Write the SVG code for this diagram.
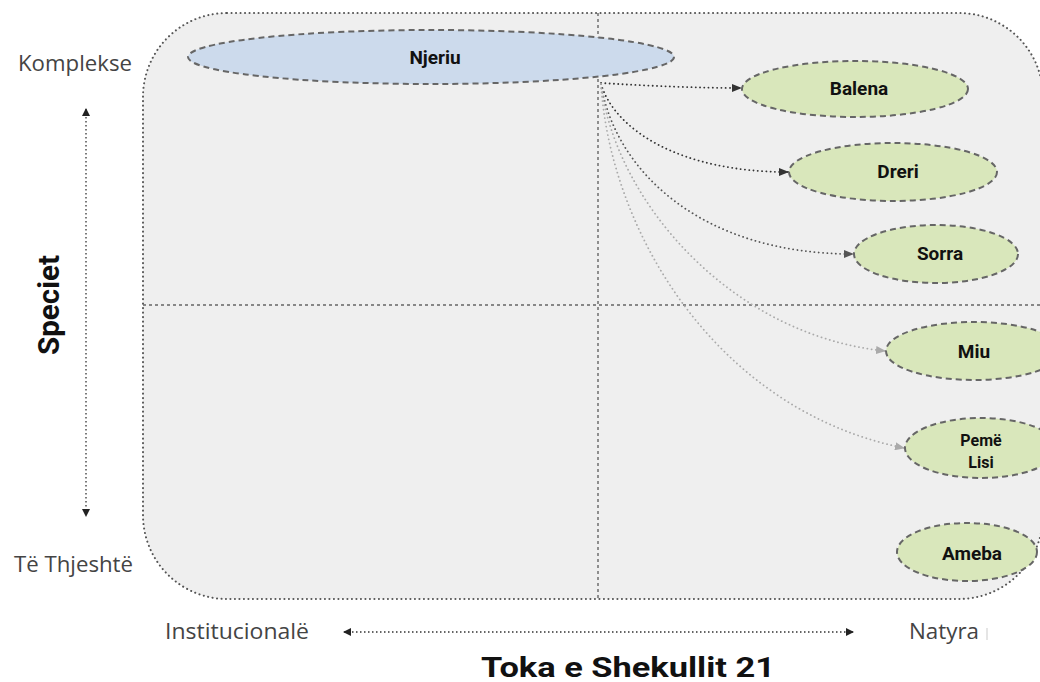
<svg xmlns="http://www.w3.org/2000/svg" width="1040" height="682" viewBox="0 0 1040 682">
<defs>
<style>
.node-blue{fill:#ccdaec;stroke:#666;stroke-width:2;stroke-dasharray:6 4}
.node-green{fill:#d9e7bb;stroke:#666;stroke-width:2;stroke-dasharray:6 4}
.nlabel{font-family:Roboto,"Liberation Sans",sans-serif;font-weight:bold;fill:#111;text-anchor:middle}
.axis-lbl{font-family:"Open Sans","Noto Sans",sans-serif;font-size:22px;fill:#444}
.conn{fill:none;stroke-width:1.8;stroke-dasharray:0.1 4.2;stroke-linecap:round}
.quad{stroke:#666;stroke-width:1.4;stroke-dasharray:3 3;fill:none}
.axis{stroke:#333;stroke-width:1.3;stroke-dasharray:1.5 2.5;fill:none}
</style>
<marker id="ahDark" viewBox="0 0 10 8" refX="9" refY="4" markerWidth="10" markerHeight="8" markerUnits="userSpaceOnUse" orient="auto"><path d="M0,0 L10,4 L0,8 z" fill="#333"/></marker>
<marker id="ahMid" viewBox="0 0 10 8" refX="9" refY="4" markerWidth="10" markerHeight="8" markerUnits="userSpaceOnUse" orient="auto"><path d="M0,0 L10,4 L0,8 z" fill="#555"/></marker>
<marker id="ahLight" viewBox="0 0 10 8" refX="9" refY="4" markerWidth="10" markerHeight="8" markerUnits="userSpaceOnUse" orient="auto"><path d="M0,0 L10,4 L0,8 z" fill="#aaa"/></marker>
<marker id="ahAxis" viewBox="0 0 8 8" refX="7" refY="4" markerWidth="8" markerHeight="8" markerUnits="userSpaceOnUse" orient="auto-start-reverse"><path d="M0,0 L8,4 L0,8 z" fill="#222"/></marker>
</defs>
<rect width="1040" height="682" fill="#ffffff"/>
<g id="background">
<rect x="143" y="13" width="900" height="586" rx="84" ry="84" fill="#efefef" stroke="#555" stroke-width="2" stroke-dasharray="0.1 4.4" stroke-linecap="round"/>
<line class="quad" x1="598" y1="13" x2="598" y2="599"/>
<line class="quad" x1="143" y1="305" x2="1043" y2="305"/>
</g>
<g id="axes">
<line class="axis" x1="86" y1="109" x2="86" y2="516" marker-start="url(#ahAxis)" marker-end="url(#ahAxis)"/>
<line class="axis" x1="344" y1="632" x2="853" y2="632" marker-start="url(#ahAxis)" marker-end="url(#ahAxis)"/>
<text class="axis-lbl" x="18" y="71" textLength="114" lengthAdjust="spacingAndGlyphs">Komplekse</text>
<text class="axis-lbl" x="14" y="572" textLength="119" lengthAdjust="spacingAndGlyphs">Të Thjeshtë</text>
<text class="axis-lbl" x="165" y="639" textLength="144" lengthAdjust="spacingAndGlyphs">Institucionalë</text>
<text class="axis-lbl" x="909" y="639" textLength="70" lengthAdjust="spacingAndGlyphs">Natyra</text>
<line x1="987" y1="628" x2="987" y2="640" stroke="#dddddd" stroke-width="1.5"/>
<text x="59" y="305" transform="rotate(-90 59 305)" text-anchor="middle" font-family="Roboto,'Liberation Sans',sans-serif" font-weight="bold" font-size="29" fill="#111" textLength="100" lengthAdjust="spacingAndGlyphs">Speciet</text>
<text x="628" y="677" text-anchor="middle" font-family="Roboto,'Liberation Sans',sans-serif" font-weight="bold" font-size="27" fill="#111" textLength="294" lengthAdjust="spacingAndGlyphs">Toka e Shekullit 21</text>
</g>
<g id="connectors">
<path class="conn" stroke="#333" d="M601,83 C650,86 700,88 741,88" marker-end="url(#ahDark)"/>
<path class="conn" stroke="#333" d="M601,84 C615,130 680,172 788,172" marker-end="url(#ahDark)"/>
<path class="conn" stroke="#555" d="M601,84 C615,170 700,254 853,254" marker-end="url(#ahMid)"/>
<path class="conn" stroke="#aaa" d="M601,84 C615,200 730,335 885,351" marker-end="url(#ahLight)"/>
<path class="conn" stroke="#aaa" d="M601,84 C610,230 715,410 904,448" marker-end="url(#ahLight)"/>
</g>
<g id="node-njeriu">
<ellipse class="node-blue" cx="431" cy="57" rx="243" ry="27"/>
<text class="nlabel" x="435" y="64" font-size="19">Njeriu</text>
</g>
<g id="node-balena">
<ellipse class="node-green" cx="855" cy="89" rx="113" ry="28"/>
<text class="nlabel" x="859" y="95" font-size="19">Balena</text>
</g>
<g id="node-dreri">
<ellipse class="node-green" cx="893" cy="172" rx="104" ry="29"/>
<text class="nlabel" x="898" y="178" font-size="19">Dreri</text>
</g>
<g id="node-sorra">
<ellipse class="node-green" cx="936" cy="254" rx="82" ry="29"/>
<text class="nlabel" x="940" y="260" font-size="19">Sorra</text>
</g>
<g id="node-miu">
<ellipse class="node-green" cx="974" cy="351" rx="88" ry="29"/>
<text class="nlabel" x="974" y="358" font-size="19">Miu</text>
</g>
<g id="node-peme-lisi">
<ellipse class="node-green" cx="981" cy="448" rx="76" ry="30"/>
<text class="nlabel" x="981" y="446" font-size="16">Pemë</text>
<text class="nlabel" x="981" y="468" font-size="16">Lisi</text>
</g>
<g id="node-ameba">
<ellipse class="node-green" cx="967" cy="552" rx="70" ry="29"/>
<text class="nlabel" x="972" y="560" font-size="19">Ameba</text>
</g>
</svg>
